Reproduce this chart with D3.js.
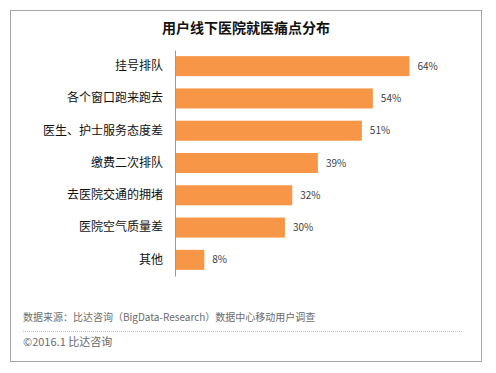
<!DOCTYPE html>
<html>
<head>
<meta charset="utf-8">
<script src="https://cdn.jsdelivr.net/npm/d3@7"></script>
<style>
  body { margin: 0; background: #fff; }
  svg { display: block; font-family: "Noto Sans CJK SC", sans-serif; }
</style>
</head>
<body>
<div id="chart-area"></div>
<script>
// data
const categories = ["挂号排队", "各个窗口跑来跑去", "医生、护士服务态度差", "缴费二次排队",
	"去医院交通的拥堵", "医院空气质量差", "其他"];
const values = [64, 54, 51, 39, 32, 30, 8];

const svgWidth = 496,
	svgHeight = 373;

const svg = d3.select("#chart-area")
	.append("svg")
	.attr("width", svgWidth)
	.attr("height", svgHeight);

// outer frame
svg.append("rect")
	.attr("x", 10.5)
	.attr("y", 10.5)
	.attr("width", 471)
	.attr("height", 351)
	.attr("fill", "#fff")
	.attr("stroke", "#a6a6a6");

svg.append("text")
	.attr("x", 246)
	.attr("y", 33)
	.attr("text-anchor", "middle")
	.attr("font-size", "14px")
	.attr("font-weight", "bold")
	.attr("fill", "#111")
	.text("用户线下医院就医痛点分布");

const x = d3.scaleLinear().domain([0, 64]).range([175, 409.5]);
const y = d3.scaleBand().domain(categories).range([50, 276]).paddingInner(0.38).paddingOuter(0.19);

svg.selectAll("rect.bar")
	.data(values)
	.enter().append("rect")
	.attr("class", "bar")
	.attr("x", x(0))
	.attr("y", (d, i) => y(categories[i]))
	.attr("width", d => x(d) - x(0))
	.attr("height", y.bandwidth())
	.attr("fill", "#f79646");

svg.selectAll("text.value")
	.data(values)
	.enter().append("text")
	.attr("class", "value")
	.attr("x", d => x(d) + 8)
	.attr("y", (d, i) => y(categories[i]) + y.bandwidth() / 2)
	.attr("dy", "0.35em")
	.attr("font-size", "10px")
	.attr("fill", "#404040")
	.text(d => d + "%");

const yAxis = d3.axisLeft(y).tickSize(0).tickPadding(12);
const yAxisGroup = svg.append("g")
	.attr("transform", `translate(${x(0)}, 0)`)
	.call(yAxis);
yAxisGroup.select(".domain").attr("stroke", "#999");
yAxisGroup.selectAll("text")
	.attr("font-size", "12px")
	.attr("fill", "#111")
	.attr("font-family", "Noto Sans CJK SC, sans-serif");

// footer
svg.append("text")
	.attr("x", 23)
	.attr("y", 321)
	.attr("font-size", "10px")
	.attr("fill", "#6b6b6b")
	.text("数据来源：比达咨询（BigData-Research）数据中心移动用户调查");

svg.append("line")
	.attr("x1", 23)
	.attr("x2", 463)
	.attr("y1", 331.5)
	.attr("y2", 331.5)
	.attr("stroke", "#bbb")
	.attr("stroke-dasharray", "1,1");

svg.append("text")
	.attr("x", 23)
	.attr("y", 346)
	.attr("font-size", "11px")
	.attr("fill", "#6b6b6b")
	.text("©2016.1 比达咨询");
</script>
</body>
</html>
